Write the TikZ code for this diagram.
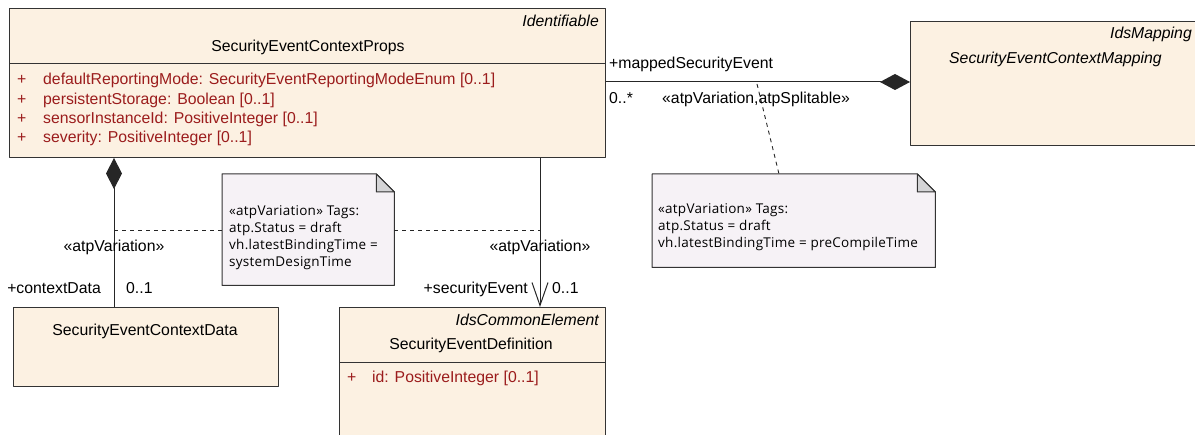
\documentclass[tikz,border=0pt]{standalone}
\usepackage{fontspec}
\setmainfont{Liberation Sans}
\newfontfamily\notefont[LetterSpace=2]{Open Sans}
\usetikzlibrary{arrows.meta}
\definecolor{boxfill}{RGB}{252,241,226}
\definecolor{notefill}{RGB}{246,242,246}
\definecolor{attrred}{RGB}{155,28,28}
\definecolor{foldgray}{RGB}{212,212,214}
\begin{document}
\begin{tikzpicture}[x=1pt, y=-1pt, font=\fontsize{15.8}{18}\selectfont, line join=round,
	classbox/.style={draw=black!80, line width=1pt, fill=boxfill, inner sep=0pt, anchor=north west},
	notearea/.style={inner sep=0pt, anchor=north west},
	notebox/.style={draw=black!80, line width=1pt, fill=notefill},
	attr/.style={text=attrred, inner sep=0pt, anchor=base west},
	lbl/.style={inner sep=0pt},
	notetext/.style={inner sep=0pt, anchor=base west, font=\notefont\fontsize{13.5}{17}\selectfont},
	dashline/.style={draw=black!85, line width=0.9pt, dash pattern=on 4pt off 4pt},
	assoc/.style={draw=black!85, line width=1pt}]
	\useasboundingbox (0,0) rectangle (1195,435);
	% classes
	\node[classbox, minimum width=596pt, minimum height=149pt] (props) at (9,8) {};
	\draw[black!80, line width=1pt] (9,64)--(605,64);
	\node[lbl, anchor=base east] (propsst) at (599,27) {\itshape Identifiable};
	\node[lbl, anchor=base] (propsname) at (308,51.5) {SecurityEventContextProps};
	\foreach \a [count=\i from 0] in {{defaultReportingMode: SecurityEventReportingModeEnum [0..1]},{persistentStorage: Boolean [0..1]},{sensorInstanceId: PositiveInteger [0..1]},{severity: PositiveInteger [0..1]}}{
		\node[attr] (pplus\i) at (17,85+19.2*\i) {+};
		\node[attr] (pattr\i) at (43,85+19.2*\i) {\a};
	}
	\node[classbox, minimum width=300pt, minimum height=124pt] (map) at (910,21) {};
	\node[lbl, anchor=base east] (mapst) at (1192,39) {\itshape IdsMapping};
	\node[lbl, anchor=base west] (mapname) at (949,63.5) {\itshape SecurityEventContextMapping};
	\node[classbox, minimum width=265pt, minimum height=79pt] (cdata) at (13,307) {};
	\node[lbl, anchor=base] (cdataname) at (145,335.5) {SecurityEventContextData};
	\node[classbox, minimum width=266pt, minimum height=140pt] (defn) at (339,307) {};
	\draw[black!80, line width=1pt] (339,363)--(605,363);
	\node[lbl, anchor=base east] (defnst) at (599,325.5) {\itshape IdsCommonElement};
	\node[lbl, anchor=base] (defnname) at (471,349.5) {SecurityEventDefinition};
	\node[attr] (dplus) at (347,382.5) {+};
	\node[attr] (dattr) at (372,382.5) {id: PositiveInteger [0..1]};
	% notes
	\node[notearea, minimum width=172pt, minimum height=111pt] (note1) at (222,174) {};
	\filldraw[notebox] (note1.north west)--([xshift=-18pt]note1.north east)--([yshift=-18pt]note1.north east)--(note1.south east)--(note1.south west)--cycle;
	\filldraw[draw=black!80, line width=1pt, fill=foldgray] ([xshift=-18pt]note1.north east)--([xshift=-18pt,yshift=-18pt]note1.north east)--([yshift=-18pt]note1.north east)--cycle;
	\foreach \t [count=\i from 0] in {{«atpVariation» Tags:},{atp.Status = draft},{vh.latestBindingTime =},{systemDesignTime}}
		\node[notetext] (noteonel\i) at (229,215.5+17*\i) {\t};
	\node[notearea, minimum width=283pt, minimum height=93pt] (note2) at (652,174) {};
	\filldraw[notebox] (note2.north west)--([xshift=-18pt]note2.north east)--([yshift=-18pt]note2.north east)--(note2.south east)--(note2.south west)--cycle;
	\filldraw[draw=black!80, line width=1pt, fill=foldgray] ([xshift=-18pt]note2.north east)--([xshift=-18pt,yshift=-18pt]note2.north east)--([yshift=-18pt]note2.north east)--cycle;
	\foreach \t [count=\i from 0] in {{«atpVariation» Tags:},{atp.Status = draft},{vh.latestBindingTime = preCompileTime}}
		\node[notetext] (notetwol\i) at (658,214+17*\i) {\t};
	% connectors
	\coordinate (cdx) at (114,0);
	\coordinate (sex) at (540,0);
	\coordinate (mapy) at (0,82);
	\draw[assoc, {Diamond[length=31pt,width=16pt]}-] (props.south -| cdx)--(cdata.north -| cdx);
	\draw[assoc, -{Straight Barb[length=23pt,width=16pt]}] (props.south -| sex)--(defn.north -| sex);
	\draw[assoc, -{Diamond[length=30pt,width=16pt]}] (props.east |- mapy)--(map.west |- mapy);
	\coordinate (cdjoin) at (114,230);
	\coordinate (sejoin) at (540,230);
	\coordinate (mapjoin) at (757,84);
	\coordinate (notetwotop) at (779,174);
	\draw[dashline] (cdjoin)--(note1.west |- cdjoin);
	\draw[dashline] (note1.east |- sejoin)--(sejoin);
	\draw[dashline] (mapjoin)--(notetwotop);
	% connector labels
	\node[lbl, anchor=base west] (mapdrole) at (609,69) {+mappedSecurityEvent};
	\node[lbl, anchor=base west] (mapdmult) at (609,103.5) {0..*};
	\node[lbl, anchor=base west] (mapdster) at (662,103.5) {«atpVariation,atpSplitable»};
	\node[lbl, anchor=base] (cdster) at (114,252) {«atpVariation»};
	\node[lbl, anchor=base east] (cdrole) at (101,294) {+contextData};
	\node[lbl, anchor=base west] (cdmult) at (126,294) {0..1};
	\node[lbl, anchor=base] (seester) at (540,252) {«atpVariation»};
	\node[lbl, anchor=base east] (seerole) at (528,294) {+securityEvent};
	\node[lbl, anchor=base west] (seemult) at (552,294) {0..1};
\end{tikzpicture}
\end{document}
